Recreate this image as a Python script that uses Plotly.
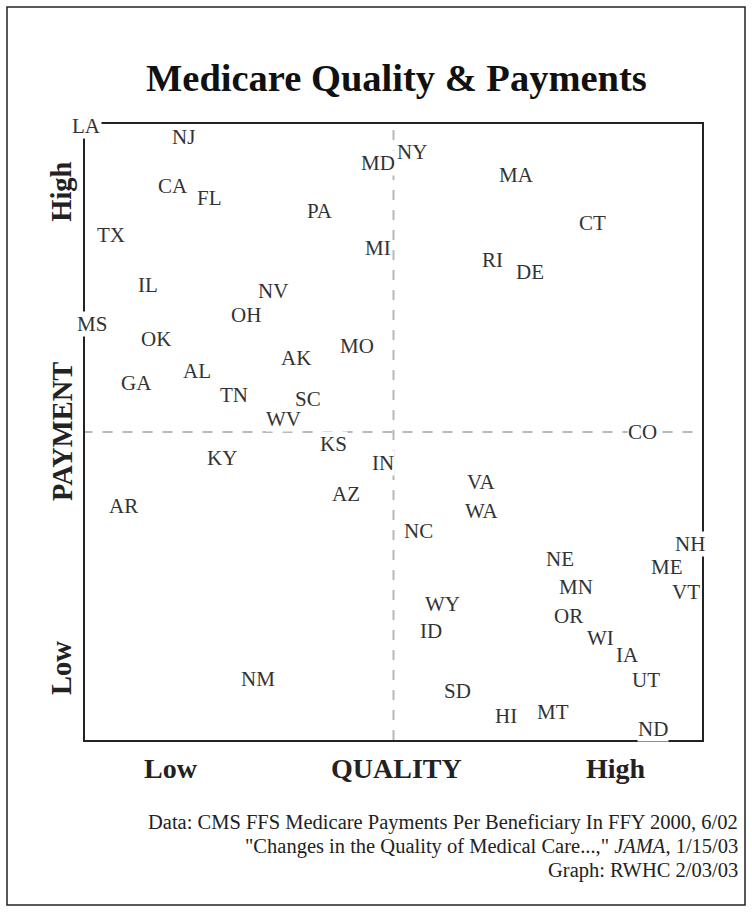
import plotly.graph_objects as go

# State labels, quality (x, 0-100 low->high) and payment (y, 0-100 low->high)
states = ["LA", "NJ", "NY", "MD", "MA", "CA", "FL", "PA", "CT", "TX",
          "MI", "RI", "DE", "IL", "NV", "OH", "MS", "OK", "MO", "AK",
          "AL", "GA", "TN", "SC", "WV", "CO", "KS", "KY", "IN", "VA",
          "AZ", "AR", "WA", "NC", "NE", "NH", "ME", "MN", "VT", "WY",
          "OR", "ID", "WI", "IA", "NM", "UT", "SD", "MT", "HI", "ND"]
quality = [0.3, 16.0, 53.0, 47.5, 70.0, 14.3, 20.1, 38.1, 82.2, 4.2,
           47.5, 66.1, 72.1, 10.2, 30.5, 26.1, 1.1, 11.5, 44.1, 34.2,
           18.2, 8.3, 24.1, 36.1, 32.1, 90.4, 40.2, 22.2, 48.3, 64.2,
           42.3, 6.3, 64.3, 54.1, 77.0, 98.1, 94.3, 79.6, 97.4, 58.0,
           78.4, 56.1, 83.6, 88.0, 28.0, 90.9, 60.3, 75.9, 68.2, 92.1]
payment = [99.7, 97.9, 95.5, 93.7, 91.7, 89.9, 88.0, 85.9, 83.9, 82.0,
           79.9, 77.9, 76.0, 73.9, 72.9, 69.0, 67.5, 65.1, 64.0, 62.0,
           59.9, 58.0, 56.0, 55.4, 52.1, 50.0, 48.1, 45.8, 45.0, 41.9,
           39.9, 38.0, 37.2, 33.9, 29.4, 31.8, 28.1, 24.8, 24.0, 22.1,
           20.1, 17.7, 16.6, 13.8, 9.9, 9.7, 8.0, 4.5, 3.9, 1.8]

x_labels = ["Low", "QUALITY", "High"]
x_label_pos = [14.0, 50.5, 86.0]
y_labels = ["Low", "PAYMENT", "High"]
y_label_pos = [11.7, 50.0, 89.0]

title = "Medicare Quality & Payments"
footer = ["Data: CMS FFS Medicare Payments Per Beneficiary In FFY 2000, 6/02",
          "\"Changes in the Quality of Medical Care...,\" <i>JAMA</i>, 1/15/03",
          "Graph: RWHC 2/03/03"]

SERIF = "Liberation Serif, Times New Roman, serif"

fig = go.Figure()
fig.add_trace(go.Scatter(x=quality, y=payment, mode="markers",
                         marker=dict(size=1, color="rgba(0,0,0,0)"),
                         hoverinfo="skip", showlegend=False))

# quadrant dashed lines
fig.add_shape(type="line", x0=50, x1=50, y0=0, y1=100, xref="x", yref="y",
              line=dict(color="#b8b8b8", width=2, dash="10px,10px"), layer="below")
fig.add_shape(type="line", x0=-0.4, x1=100, y0=50, y1=50, xref="x", yref="y",
              line=dict(color="#b8b8b8", width=2, dash="10px,10px"), layer="below")

# outer border
fig.add_shape(type="rect", xref="paper", yref="paper",
              x0=(7 - 85) / 617, x1=(745 - 85) / 617,
              y0=(740 - 905) / 616, y1=(740 - 7) / 616,
              line=dict(color="#222", width=1.5))

for s, xq, yp in zip(states, quality, payment):
    fig.add_annotation(x=xq, y=yp, xref="x", yref="y", text=s, showarrow=False,
                       font=dict(family=SERIF, size=21, color="#333"),
                       bgcolor="white", borderpad=0)

for t, xp in zip(x_labels, x_label_pos):
    fig.add_annotation(x=xp / 100.0, y=(740 - 768) / 616, xref="paper", yref="paper",
                       text="<b>%s</b>" % t, showarrow=False,
                       xanchor="center", yanchor="middle",
                       font=dict(family=SERIF, size=28, color="#222"))
for t, yp in zip(y_labels, y_label_pos):
    fig.add_annotation(x=(62 - 85) / 617, y=yp / 100.0, xref="paper", yref="paper",
                       text="<b>%s</b>" % t, showarrow=False, textangle=-90,
                       xanchor="center", yanchor="middle",
                       font=dict(family=SERIF, size=28.5, color="#222"))

fig.add_annotation(x=(396 - 85) / 617, y=(740 - 78) / 616, xref="paper", yref="paper",
                   text="<b>%s</b>" % title, showarrow=False,
                   xanchor="center", yanchor="middle",
                   font=dict(family=SERIF, size=38.5, color="#111"))

for i, line in enumerate(footer):
    fig.add_annotation(x=(740 - 85) / 617, y=(740 - (822 + 24 * i)) / 616,
                       xref="paper", yref="paper", text=line, showarrow=False,
                       xanchor="right", yanchor="middle",
                       font=dict(family=SERIF, size=20.5, color="#222"))

axis_common = dict(range=[0, 100], showgrid=False, zeroline=False, showticklabels=False,
                   ticks="", showline=True, linecolor="#222", linewidth=2, mirror=True)
fig.update_xaxes(**axis_common)
fig.update_yaxes(**axis_common)

fig.update_layout(width=752, height=920, margin=dict(l=85, r=50, t=124, b=180),
                  paper_bgcolor="white", plot_bgcolor="white", showlegend=False)

fig.write_html("out.html", config={"displayModeBar": False},
               post_script="document.body.style.margin='0';")
